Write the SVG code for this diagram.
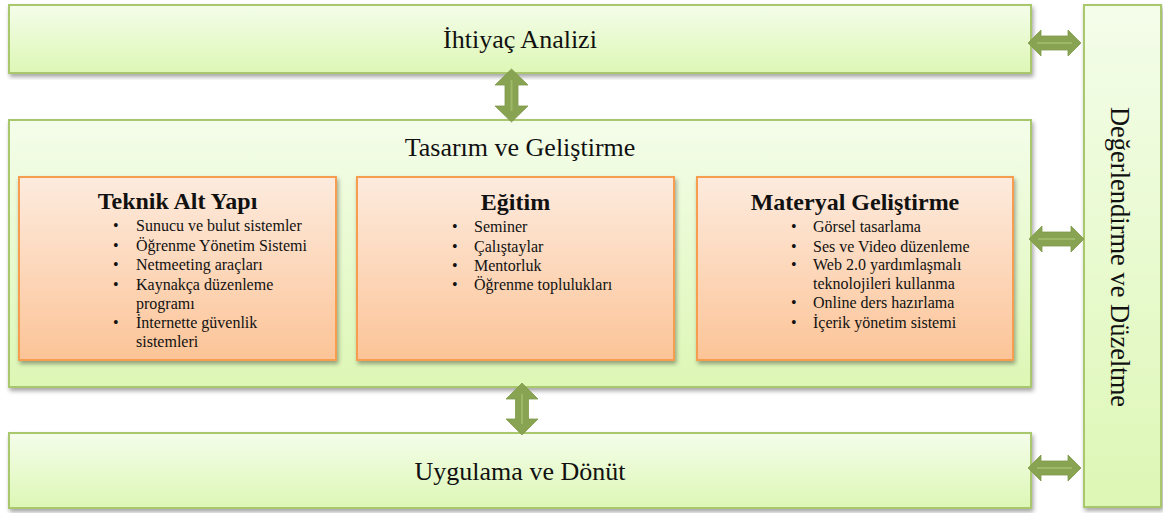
<svg xmlns="http://www.w3.org/2000/svg" width="1163" height="513" viewBox="0 0 1163 513">
  <style>
    .stage { stroke: #a9c86e; stroke-width: 2; fill: url(#greenFill); filter: url(#shadow); }
    .stageV { stroke: #a9c86e; stroke-width: 2; fill: url(#greenFill); filter: url(#shadow); }
    .sub { stroke: #f79d4f; stroke-width: 2; fill: url(#orangeFill); filter: url(#shadow); }
    .label { font-family: "Liberation Serif", "Times New Roman", serif; font-size: 26px; fill: #111; text-anchor: middle; }
    .title { font-family: "Liberation Serif", "Times New Roman", serif; font-size: 24px; font-weight: bold; fill: #111; text-anchor: middle; }
    .item { font-family: "Liberation Serif", "Times New Roman", serif; font-size: 16px; fill: #111; }
    .arrow { fill: #88a352; stroke: #7f9a49; stroke-width: 0.8; }
    .arrowLine { stroke: #9db866; stroke-width: 2; }
  </style>
  <defs>
    <linearGradient id="greenFill" x1="0" y1="0" x2="0" y2="1">
      <stop offset="0" stop-color="#f4fdea"/>
      <stop offset="1" stop-color="#ddf7b5"/>
    </linearGradient>
    <linearGradient id="orangeFill" x1="0" y1="0" x2="0" y2="1">
      <stop offset="0" stop-color="#fdebde"/>
      <stop offset="1" stop-color="#fcc497"/>
    </linearGradient>
    <filter id="shadow" x="-5%" y="-5%" width="110%" height="115%">
      <feDropShadow dx="1.5" dy="3" stdDeviation="2" flood-color="#000" flood-opacity="0.35"/>
    </filter>
  </defs>

  <!-- Stage: needs analysis -->
  <g id="ihtiyac-analizi">
    <rect class="stage" x="9" y="5" width="1022" height="68"/>
    <text class="label" x="520" y="48">İhtiyaç Analizi</text>
  </g>

  <!-- Stage: design and development, with three sub-areas -->
  <g id="tasarim-gelistirme">
    <rect class="stage" x="9" y="120" width="1022" height="267"/>
    <text class="label" x="520" y="156">Tasarım ve Geliştirme</text>
  </g>

  <g id="teknik-alt-yapi">
    <rect class="sub" x="19" y="177" width="317" height="183"/>
    <text class="title" x="177.5" y="209">Teknik Alt Yapı</text>
    <g class="item">
      <text x="113" y="231">•</text><text x="136" y="231">Sunucu ve bulut sistemler</text>
      <text x="113" y="251">•</text><text x="136" y="251">Öğrenme Yönetim Sistemi</text>
      <text x="113" y="270">•</text><text x="136" y="270">Netmeeting araçları</text>
      <text x="113" y="290">•</text><text x="136" y="290">Kaynakça düzenleme</text>
      <text x="136" y="309">programı</text>
      <text x="113" y="328">•</text><text x="136" y="328">İnternette güvenlik</text>
      <text x="136" y="347">sistemleri</text>
    </g>
  </g>

  <g id="egitim">
    <rect class="sub" x="357" y="177" width="317" height="183"/>
    <text class="title" x="515.5" y="210">Eğitim</text>
    <g class="item">
      <text x="452" y="232">•</text><text x="474" y="232">Seminer</text>
      <text x="452" y="252">•</text><text x="474" y="252">Çalıştaylar</text>
      <text x="452" y="271">•</text><text x="474" y="271">Mentorluk</text>
      <text x="452" y="290">•</text><text x="474" y="290">Öğrenme toplulukları</text>
    </g>
  </g>

  <g id="materyal-gelistirme">
    <rect class="sub" x="697" y="177" width="316" height="183"/>
    <text class="title" x="855" y="210">Materyal Geliştirme</text>
    <g class="item">
      <text x="791" y="232">•</text><text x="813" y="232">Görsel tasarlama</text>
      <text x="791" y="252">•</text><text x="813" y="252">Ses ve Video düzenleme</text>
      <text x="791" y="270">•</text><text x="813" y="270">Web 2.0 yardımlaşmalı</text>
      <text x="813" y="289">teknolojileri kullanma</text>
      <text x="791" y="308">•</text><text x="813" y="308">Online ders hazırlama</text>
      <text x="791" y="328">•</text><text x="813" y="328">İçerik yönetim sistemi</text>
    </g>
  </g>

  <!-- Stage: implementation and feedback -->
  <g id="uygulama-donut">
    <rect class="stage" x="9" y="433" width="1022" height="75"/>
    <text class="label" x="520" y="480">Uygulama ve Dönüt</text>
  </g>

  <!-- Evaluation and revision column -->
  <g id="degerlendirme-duzeltme">
    <rect class="stageV" x="1084" y="5" width="77" height="502"/>
    <text class="label" transform="translate(1111,257) rotate(90)" x="0" y="0" style="font-size:26.5px">Değerlendirme ve Düzeltme</text>
  </g>

  <!-- Two-way connectors -->
  <g id="connectors">
    <!-- vertical: analysis <-> design -->
    <path class="arrow" d="M511.5 69 L528 85 L518 85 L518 106 L528 106 L511.5 122 L495 106 L505 106 L505 85 L495 85 Z"/>
    <line class="arrowLine" x1="511.5" y1="80" x2="511.5" y2="111"/>
    <!-- vertical: design <-> implementation -->
    <path class="arrow" d="M522 383 L538 399 L528.5 399 L528.5 419 L538 419 L522 435 L506 419 L515.5 419 L515.5 399 L506 399 Z"/>
    <line class="arrowLine" x1="522" y1="394" x2="522" y2="424"/>
    <!-- horizontal: stages <-> evaluation -->
    <path class="arrow" d="M1028 43 L1041 30 L1041 36 L1068 36 L1068 30 L1081 43 L1068 56 L1068 50 L1041 50 L1041 56 Z"/>
    <line class="arrowLine" x1="1037" y1="43" x2="1072" y2="43"/>
    <path class="arrow" d="M1029 239 L1042 226 L1042 232 L1071 232 L1071 226 L1084 239 L1071 252 L1071 246 L1042 246 L1042 252 Z"/>
    <line class="arrowLine" x1="1038" y1="239" x2="1075" y2="239"/>
    <path class="arrow" d="M1028 468 L1041 455 L1041 461 L1068 461 L1068 455 L1081 468 L1068 481 L1068 475 L1041 475 L1041 481 Z"/>
    <line class="arrowLine" x1="1037" y1="468" x2="1072" y2="468"/>
  </g>
</svg>
